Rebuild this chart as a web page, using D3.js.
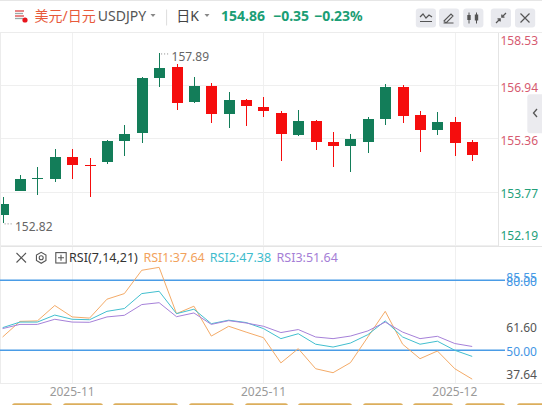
<!DOCTYPE html>
<html><head><meta charset="utf-8">
<script src="https://cdn.jsdelivr.net/npm/d3@7"></script>
<style>
html,body{margin:0;padding:0;background:#fff;overflow:hidden}
svg{display:block}
text{font-family:"Noto Sans","Noto Sans CJK SC",sans-serif}
</style></head><body>
<svg id="c" width="542" height="405"></svg>
<script>
// ---- data ----
const dates = ["2025-11-07","2025-11-10","2025-11-11","2025-11-12","2025-11-13","2025-11-14","2025-11-17","2025-11-18","2025-11-19","2025-11-20","2025-11-21","2025-11-24","2025-11-25","2025-11-26","2025-11-27","2025-11-28","2025-12-01","2025-12-02","2025-12-03","2025-12-04","2025-12-05","2025-12-08","2025-12-09","2025-12-10","2025-12-11","2025-12-12","2025-12-15","2025-12-16"];
const openV  = [153.08,153.80,154.16,154.14,154.79,154.56,154.65,155.28,155.52,157.16,157.49,156.44,156.91,156.09,156.50,156.30,156.12,155.46,155.87,155.24,155.13,155.25,155.94,156.88,156.04,155.61,155.84,155.24];
const highV  = [153.61,154.25,154.50,155.03,155.04,154.77,155.32,155.75,157.18,157.89,157.57,157.18,157.01,156.74,156.52,156.58,156.18,156.20,155.90,155.54,155.50,155.98,156.97,156.94,156.18,156.15,155.98,155.30];
const lowV   = [152.82,153.78,153.66,154.05,154.14,153.61,154.58,154.83,155.22,156.89,156.20,156.40,155.82,155.66,155.72,156.00,154.68,155.42,155.00,154.50,154.34,154.92,155.76,155.82,154.95,155.45,154.82,154.68];
const closeV = [153.41,154.13,154.18,154.79,154.56,154.53,155.28,155.50,157.15,157.47,156.42,156.91,156.09,156.50,156.33,156.18,155.49,155.87,155.25,155.13,155.33,155.93,156.88,156.03,155.61,155.84,155.22,154.86];
const rsi1 = [55.7,62.4,62.6,69.2,64.3,63.8,71.9,74.3,84.3,85.55,65.7,68.9,56.1,60.3,57.8,55.4,44.6,50.7,42.1,40.4,44.7,55.7,66.7,52.6,46.4,49.7,42.1,37.64];
const rsi2 = [59.7,62.1,62.1,65.1,63.3,63.1,66.7,67.9,74.3,75.3,65.7,67.6,61.4,62.9,61.9,59.3,55.0,57.1,52.6,51.4,53.1,56.7,62.6,55.7,52.6,53.9,50.0,47.38];
const rsi3 = [59.3,61.1,61.1,63.3,62.1,62.0,64.3,65.0,69.6,70.4,64.4,66.0,61.1,62.7,61.7,60.3,57.6,58.9,55.7,55.0,56.1,58.3,62.1,57.8,55.0,56.0,52.9,51.64];
const priceTicks = [158.53,156.94,155.36,153.77,152.19];
const rsiLevels = [80,50];
const rsiTicks = [85.55,61.60,37.64];
const timeTickIdx = [4,15,26];
const lastPrice = 154.86, change = -0.35, changePct = -0.23;
const titleCN = "美元/日元", symbol = "USDJPY", period = "日K";
const rsiName = "RSI(7,14,21)";

// ---- layout ----
const W = 542, H = 405;
const main = {x0:0, x1:498, y0:33, y1:246};
const rp = {y0:246, y1:383};
const UP = "#137d59", DN = "#f50d0d";
const svg = d3.select("#c");

const x = d3.scaleLinear().domain([0, dates.length-1]).range([2.6, 472.2]);
const y = d3.scaleLinear().domain([152.19, 158.53]).range([244.5, 32]);
const yr = d3.scaleLinear().domain([50, 80]).range([350.3, 280.3]);

svg.append("rect").attr("width",W).attr("height",H).attr("fill","#fff");
const defs = svg.append("defs");
defs.append("clipPath").attr("id","cm").append("rect").attr("x",1).attr("y",main.y0).attr("width",main.x1-1).attr("height",main.y1-main.y0);
defs.append("clipPath").attr("id","cr").append("rect").attr("x",0).attr("y",rp.y0).attr("width",W).attr("height",rp.y1-rp.y0);

// ---- header ----
const hdr = svg.append("g");
hdr.append("line").attr("x1",0).attr("x2",W).attr("y1",0.5).attr("y2",0.5).attr("stroke","#e6e6e6");
// flag icon
const fl = hdr.append("g").attr("transform","translate(20,15)");
[-4,-1.5,1,3.5].forEach((d,i)=>fl.append("line").attr("x1",-5).attr("x2",i%2?3:4).attr("y1",d).attr("y2",d).attr("stroke",i%2?"#9aa":"#d44").attr("stroke-width",1.3));
fl.append("circle").attr("cx",5).attr("cy",5).attr("r",2.6).attr("fill","#e8141c");
const hy = 15.8;
hdr.append("text").attr("x",34.6).attr("y",hy).attr("dominant-baseline","central").attr("font-size",14).attr("fill","#e85a3b").attr("font-family","Noto Sans CJK SC").text(titleCN);
hdr.append("text").attr("x",97.8).attr("y",hy).attr("dominant-baseline","central").attr("font-size",14).attr("fill","#555").text(symbol);
hdr.append("path").attr("d","M150.5,14 L155.5,14 L153,17 Z").attr("fill","#888");
hdr.append("line").attr("x1",166.6).attr("x2",166.6).attr("y1",9.5).attr("y2",25.5).attr("stroke","#ddd");
hdr.append("text").attr("x",176.3).attr("y",hy).attr("dominant-baseline","central").attr("font-size",14).attr("fill","#444").attr("font-family","Noto Sans CJK SC").text(period);
hdr.append("path").attr("d","M204.5,14 L209.5,14 L207,17 Z").attr("fill","#888");
const hnum = [[221, d3.format(".2f")(lastPrice)],[273, d3.format(".2f")(change)],[314, d3.format(".2f")(changePct)+"%"]];
hnum.forEach(([px,t])=>hdr.append("text").attr("x",px).attr("y",hy).attr("dominant-baseline","central").attr("font-size",14).attr("font-weight","bold").attr("fill","#1b9e75").text(t));
// toolbar buttons
const btns = [415.8,439,463.2,490.8,515];
btns.forEach(bx=>hdr.append("rect").attr("x",bx).attr("y",8.6).attr("width",20.2).attr("height",19).attr("rx",3).attr("fill","#e8e9ee"));
const ic = hdr.append("g").attr("stroke","#555").attr("fill","none").attr("stroke-width",1.2);
ic.append("path").attr("d","M420,17 l3,-3 l3,4 l3,-3 l3,2 M420,21.5 h12");
ic.append("path").attr("d","M444,21 l7,-7 l2,2 l-7,7 z M443.5,23 h10").attr("stroke-width",1.1);
ic.append("path").attr("d","M469,12.5 v11 M476.5,12.5 v11").attr("stroke-width",1);
hdr.append("rect").attr("x",467.3).attr("y",15).attr("width",3.4).attr("height",5).attr("fill","#555");
hdr.append("rect").attr("x",474.8).attr("y",14.5).attr("width",3.4).attr("height",6).attr("fill","#555");
ic.append("path").attr("d","M496,23 l4,-4 M497.5,18.8 h2.7 v2.7 M506,13 l-4,4 M504.5,17.2 h-2.7 v-2.7");
ic.append("path").attr("d","M520.5,13.5 l9,9 M529.5,13.5 l-9,9");

// ---- main pane ----
const mp = svg.append("g");
mp.selectAll(".vg").data(timeTickIdx).join("line").attr("x1",d=>Math.round(x(d))+0.5).attr("x2",d=>Math.round(x(d))+0.5)
  .attr("y1",main.y0).attr("y2",rp.y1).attr("stroke","#f0f0f0");
mp.selectAll(".hg").data(priceTicks).join("line").attr("x1",0).attr("x2",main.x1).attr("y1",d=>Math.round(y(d))+0.5).attr("y2",d=>Math.round(y(d))+0.5).attr("stroke","#efefef");
svg.append("line").attr("x1",0).attr("x2",W).attr("y1",32.5).attr("y2",32.5).attr("stroke","#ececec");
svg.append("line").attr("x1",main.x1+0.5).attr("x2",main.x1+0.5).attr("y1",main.y0).attr("y2",main.y1).attr("stroke","#e4e4e4");
svg.append("line").attr("x1",0).attr("x2",W).attr("y1",246.5).attr("y2",246.5).attr("stroke","#e4e4e4");
svg.append("line").attr("x1",0).attr("x2",W).attr("y1",383.5).attr("y2",383.5).attr("stroke","#ececec");
svg.append("line").attr("x1",0.5).attr("x2",0.5).attr("y1",main.y0).attr("y2",rp.y1).attr("stroke","#ececec");

const cg = mp.append("g").attr("clip-path","url(#cm)").attr("shape-rendering","crispEdges");
const idx = d3.range(dates.length);
const col = i => closeV[i] >= openV[i] ? UP : DN;
cg.selectAll(".wk").data(idx).join("rect")
  .attr("x",i=>Math.round(x(i))).attr("width",1)
  .attr("y",i=>y(highV[i])).attr("height",i=>y(lowV[i])-y(highV[i])).attr("fill",col);
cg.selectAll(".bd").data(idx).join("rect")
  .attr("x",i=>Math.round(x(i))-5).attr("width",11)
  .attr("y",i=>y(Math.max(openV[i],closeV[i])))
  .attr("height",i=>Math.max(1.2,Math.abs(y(openV[i])-y(closeV[i])))).attr("fill",col);

// high / low markers
const hi = d3.maxIndex(highV), lo = d3.minIndex(lowV);
[[hi,highV[hi]],[lo,lowV[lo]]].forEach(([i,v])=>{
  const cx = x(i), cy = y(v);
  mp.append("line").attr("x1",cx+2).attr("x2",cx+11).attr("y1",cy+0.5).attr("y2",cy+0.5).attr("stroke","#888").attr("stroke-dasharray","1,2");
  mp.append("text").attr("x",cx+12.4).attr("y",cy+3.5).attr("dominant-baseline","central").attr("font-size",12).attr("fill","#666").text(d3.format(".2f")(v));
});

// price axis labels
svg.selectAll(".pl").data(priceTicks).join("text")
  .attr("x",538).attr("text-anchor","end")
  .attr("y",d=>Math.min(235.4,Math.max(40.7,y(d)+2))).attr("dominant-baseline","central")
  .attr("font-size",12).attr("fill",d=>d>lastPrice?"#d65a70":"#23a07a").text(d=>d3.format(".2f")(d));
// collapse tab
svg.append("path").attr("d","M542,94.3 H530.3 a3,3 0 0 0 -3,3 V130.3 a3,3 0 0 0 3,3 H542 Z").attr("fill","#ebebef");
svg.append("path").attr("d","M537,109 l-3.5,4 l3.5,4").attr("stroke","#555").attr("stroke-width",1.3).attr("fill","none");

// ---- RSI pane ----
const rg = svg.append("g");
rg.selectAll(".lv").data(rsiLevels).join("line").attr("x1",0).attr("x2",505).attr("y1",d=>yr(d)).attr("y2",d=>yr(d)).attr("stroke","#4a9ce6").attr("stroke-width",1.4);
const lg = rg.append("g").attr("clip-path","url(#cr)");
const line = d3.line().x((d,i)=>x(i)).y(d=>yr(d));
[[rsi1,"#f4ab68"],[rsi2,"#42bfcf"],[rsi3,"#a681d9"]].forEach(([s,c])=>
  lg.append("path").datum(s).attr("d",line).attr("fill","none").attr("stroke",c).attr("stroke-width",1));
// RSI axis labels
rg.selectAll(".rl").data(rsiTicks).join("text").attr("x",537).attr("text-anchor","end")
  .attr("y",(d,i)=>Math.min(374,Math.max(277.7,yr(d)+4))).attr("dominant-baseline","central")
  .attr("font-size",12).attr("fill",d=>d>=80?"#4a9ce6":"#555").text(d=>d3.format(".2f")(d));
rg.selectAll(".ll").data(rsiLevels).join("text").attr("x",537).attr("text-anchor","end")
  .attr("y",d=>yr(d)+0.7).attr("dominant-baseline","central").attr("font-size",12).attr("fill","#3f95e4").text(d=>d3.format(".2f")(d));
// RSI header
const rh = rg.append("g");
const ry = 257.8;
rh.append("path").attr("d","M16.5,253 l9.5,9.5 M26,253 l-9.5,9.5").attr("stroke","#555").attr("stroke-width",1.1);
const hex = d3.range(6).map(k=>{const a=Math.PI/3*k+Math.PI/6;return [41.2+5.5*Math.cos(a), ry+5.5*Math.sin(a)];});
rh.append("path").attr("d","M"+hex.join("L")+"Z").attr("stroke","#555").attr("fill","none").attr("stroke-width",1.1);
rh.append("circle").attr("cx",41.2).attr("cy",ry).attr("r",2).attr("stroke","#555").attr("fill","none").attr("stroke-width",1.1);
rh.append("rect").attr("x",55.8).attr("y",ry-5.2).attr("width",10.4).attr("height",10.4).attr("stroke","#555").attr("fill","none").attr("stroke-width",1.1);
rh.append("path").attr("d",`M61,${ry-3} v6 M58,${ry} h6`).attr("stroke","#555").attr("stroke-width",1.1);
const rtx = [[69,rsiName,"#333"],[143.4,"RSI1:"+d3.format(".2f")(rsi1[rsi1.length-1]),"#f2a25c"],[209.8,"RSI2:"+d3.format(".2f")(rsi2[rsi2.length-1]),"#3ebccd"],[276.5,"RSI3:"+d3.format(".2f")(rsi3[rsi3.length-1]),"#a57ed6"]];
rtx.forEach(([px,t,c])=>rh.append("text").attr("x",px).attr("y",ry).attr("dominant-baseline","central").attr("font-size",12.5).attr("fill",c).text(t));

// ---- time axis ----
const fmt = d3.timeFormat("%Y-%m"), parse = d3.timeParse("%Y-%m-%d");
svg.selectAll(".tl").data(timeTickIdx).join("text").attr("x",d=>x(d)).attr("y",391.4).attr("text-anchor","middle")
  .attr("dominant-baseline","central").attr("font-size",12).attr("fill","#9a9a9a").text(d=>fmt(parse(dates[d])));
// bottom tab strip (cut off)
const tabs = [[12,52],[63,103],[113,178],[189,234],[245,288],[298,352],[363,403],[413,453],[465,505],[517,560]];
tabs.forEach(([a,b])=>svg.append("rect").attr("x",a).attr("y",403.2).attr("width",b-a).attr("height",6).attr("rx",2.5).attr("fill","#dcae5c"));
</script></body></html>
